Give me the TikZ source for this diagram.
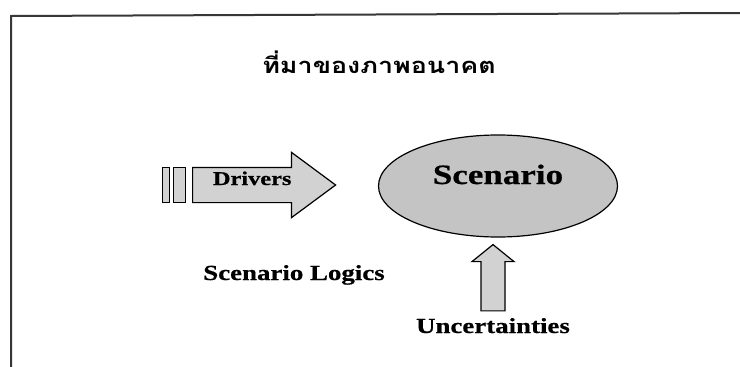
\documentclass[tikz,border=0pt]{standalone}
\usepackage{fontspec}
\usepackage{xcolor}
\usepackage{tikz}
\usetikzlibrary{positioning, shapes.geometric, shapes.arrows, calc}
\newfontfamily\lblfont[FakeStretch=1.25, FakeBold=0.6]{Liberation Serif}
\newfontfamily\thaifont[Script=Thai, FakeStretch=1.22]{Loma}
\definecolor{scengray}{RGB}{196,196,196}
\definecolor{arrgray}{RGB}{210,210,210}
\definecolor{framegray}{RGB}{55,55,55}

\begin{document}
\begin{tikzpicture}[
    x=1pt, y=-1pt,
    lbl/.style={font=\lblfont\bfseries\fontsize{21.5}{24}\selectfont,
                inner sep=0pt, anchor=base},
    scenbox/.style={draw, ellipse, fill=scengray, line width=1.2pt,
                    minimum width=239pt, minimum height=102pt, inner sep=0pt,
                    font=\lblfont\bfseries\fontsize{28}{31}\selectfont,
                    text height=19pt, text depth=23pt},
    drvarrow/.style={draw, single arrow, fill=arrgray, line width=1.2pt,
                     single arrow head extend=15pt, single arrow tip angle=73,
                     minimum height=143pt, inner xsep=4pt, inner ysep=0pt,
                     text height=17pt, text depth=17pt,
                     font=\lblfont\bfseries\fontsize{19.5}{22}\selectfont},
    bar/.style={draw, fill=arrgray, line width=1pt, inner sep=0pt,
                minimum height=35pt},
    uparr/.style={draw, fill=arrgray, line width=1.2pt, line join=miter}
  ]

  \fill[white] (0,0) rectangle (740,367);
  \useasboundingbox (0,0) rectangle (740,367);

  % frame of the scanned figure
  \draw[framegray, line width=2pt] (740,13) -- (11,16) -- (11,367);

  \node[font=\thaifont\bfseries\fontsize{22}{26}\selectfont] (title) at (379,62)
    {ที่มาของภาพอนาคต};

  \node[scenbox] (scenario) at (498,186) {Scenario};

  \node[drvarrow, anchor=west] (drivers) at (192,185) {Drivers};
  \node[bar, minimum width=12pt, left=6pt of drivers.west] (bar2) {};
  \node[bar, minimum width=7pt, left=3pt of bar2] (bar1) {};

  \node[lbl] (logics) at (294,280) {Scenario Logics};
  \node[lbl] (uncert) at (493,333) {Uncertainties};

  \coordinate (ubase) at ([yshift=7pt]uncert.north);
  \coordinate (uref) at ([yshift=-7pt]scenario.south);
  \coordinate (utip) at (ubase |- uref);
  \draw[uparr] let \p1=(ubase), \p2=(utip) in
    (\x1-12pt,\y1) -- (\x1-12pt,\y2-17pt) -- (\x1-21pt,\y2-17pt) --
    (\x1,\y2) -- (\x1+21pt,\y2-17pt) -- (\x1+12pt,\y2-17pt) --
    (\x1+12pt,\y1) -- cycle;

\end{tikzpicture}
\end{document}
